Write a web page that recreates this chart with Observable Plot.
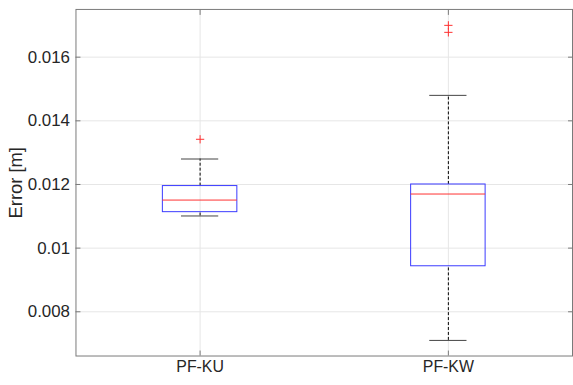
<!DOCTYPE html>
<html>
<head>
<meta charset="utf-8">
<script src="https://cdn.jsdelivr.net/npm/d3@7"></script>
<script src="https://cdn.jsdelivr.net/npm/@observablehq/plot@0.6"></script>
<style>
  html, body { margin: 0; padding: 0; background: #fff; overflow: hidden; }
  #chart { width: 573px; height: 385px; overflow: hidden; }
</style>
</head>
<body>
<div id="chart"></div>
<script>
const categories = ["PF-KU", "PF-KW"];
const q1 = [0.01113, 0.00943];
const median = [0.01151, 0.01170];
const q3 = [0.01195, 0.01200];
const whiskerLow = [0.01101, 0.00710];
const whiskerHigh = [0.01280, 0.01480];
const outlierCategory = ["PF-KU", "PF-KW", "PF-KW"];
const outlierValues = [0.01342, 0.01700, 0.01678];
const yTicks = [0.008, 0.01, 0.012, 0.014, 0.016];

const boxHalf = 0.15, capHalf = 0.075;
const rows = categories.map((c, i) => ({
  pos: i + 1, q1: q1[i], median: median[i], q3: q3[i],
  lo: whiskerLow[i], hi: whiskerHigh[i]
}));
const outliers = outlierValues.map((v, i) => ({pos: categories.indexOf(outlierCategory[i]) + 1, value: v}));

const font = "Liberation Sans, Arial, Helvetica, sans-serif";
const plot = Plot.plot({
  width: 577,
  height: 385,
  marginLeft: 76,
  marginRight: 1,
  marginTop: 9,
  marginBottom: 27,
  style: {fontFamily: font, fontSize: "16px", color: "#262626", background: "#fff", overflow: "visible"},
  x: {type: "linear", domain: [0.5, 2.5]},
  y: {domain: [0.00661, 0.0175]},
  marks: [
    Plot.gridY(yTicks, {stroke: "#e6e6e6", strokeOpacity: 1}),
    Plot.gridX([1, 2], {stroke: "#e6e6e6", strokeOpacity: 1}),
    Plot.ruleX(rows, {x: "pos", y1: "q3", y2: "hi", stroke: "#000", strokeDasharray: "3,2", strokeWidth: 1}),
    Plot.ruleX(rows, {x: "pos", y1: "lo", y2: "q1", stroke: "#000", strokeDasharray: "3,2", strokeWidth: 1}),
    Plot.ruleY(rows, {y: "hi", x1: d => d.pos - capHalf, x2: d => d.pos + capHalf, stroke: "#444", strokeWidth: 1}),
    Plot.ruleY(rows, {y: "lo", x1: d => d.pos - capHalf, x2: d => d.pos + capHalf, stroke: "#444", strokeWidth: 1}),
    Plot.rect(rows, {x1: d => d.pos - boxHalf, x2: d => d.pos + boxHalf, y1: "q1", y2: "q3", fill: "none", stroke: "#3a3aff", strokeWidth: 1}),
    Plot.ruleY(rows, {y: "median", x1: d => d.pos - boxHalf, x2: d => d.pos + boxHalf, stroke: "#ff3030", strokeWidth: 1}),
    Plot.dot(outliers, {x: "pos", y: "value", symbol: "plus", r: 2.8, stroke: "#ff3030", strokeWidth: 1}),
    Plot.frame({stroke: "#7a7a7a", strokeWidth: 1}),
    Plot.axisY(yTicks, {anchor: "left", tickSize: -5, stroke: "#7a7a7a", tickPadding: 11, tickFormat: d => String(+d.toFixed(3)), fill: "#262626", fontSize: 17, label: null}),
    Plot.text(["Error [m]"], {frameAnchor: "left", dx: -60, rotate: -90, textAnchor: "middle", fontSize: 18.5, fill: "#262626"}),
    Plot.axisY(yTicks, {anchor: "right", tickSize: -5, stroke: "#7a7a7a", tickFormat: () => "", label: null}),
    Plot.axisX([1, 2], {anchor: "bottom", tickSize: -5, stroke: "#7a7a7a", tickPadding: 10, tickFormat: i => categories[i - 1], fill: "#262626", fontSize: 16, label: null}),
    Plot.axisX([1, 2], {anchor: "top", tickSize: -5, stroke: "#7a7a7a", tickFormat: () => "", label: null})
  ]
});
document.getElementById("chart").appendChild(plot);
</script>
</body>
</html>
